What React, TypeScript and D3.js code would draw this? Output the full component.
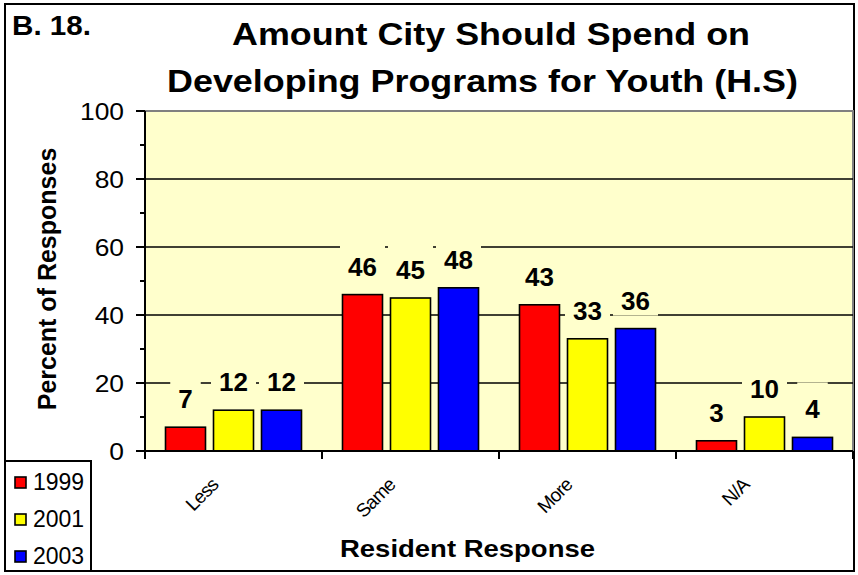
import React from "react";
import * as d3 from "d3";

const categories = ["Less", "Same", "More", "N/A"];
const years = ["1999", "2001", "2003"];
const values1999 = [7, 46, 43, 3];
const values2001 = [12, 45, 33, 10];
const values2003 = [12, 48, 36, 4];
const yTicks = [0, 20, 40, 60, 80, 100];
const yMinorTicks = [10, 30, 50, 70, 90];
const seriesColors = ["#FF0000", "#FFFF00", "#0000FF"];
const titleLines = ["Amount City Should Spend on", "Developing Programs for Youth (H.S)"];

const W = 858;
const H = 575;
const FONT = "'Liberation Sans', Arial, Helvetica, sans-serif";

export default function App() {
  const series = [values1999, values2001, values2003];
  const plot = { left: 145, right: 853, top: 111, bottom: 451 };
  const y = d3.scaleLinear().domain([0, 100]).range([plot.bottom, plot.top]);
  const x0 = d3.scaleBand<string>().domain(categories).range([plot.left, plot.right]);
  const x1 = d3
    .scaleBand<string>()
    .domain(years)
    .range([20.5, 156.5])
    .paddingInner(1 / 6);
  const bw = x1.bandwidth();
  const bgFill = "#FFFFCC";

  const bars: any[] = [];
  const labels: any[] = [];
  categories.forEach((c, ci) => {
    years.forEach((yr, si) => {
      const v = series[si][ci];
      const bx = (x0(c) as number) + (x1(yr) as number);
      bars.push(
        <rect
          key={`b-${c}-${yr}`}
          x={bx}
          y={y(v)}
          width={bw}
          height={y(0) - y(v)}
          fill={seriesColors[si]}
          stroke="#000"
          strokeWidth={1.6}
        />
      );
      const cx = bx + bw / 2;
      const base = y(v) - 19;
      const txt = String(v);
      const tw = txt.length * 14.5 + 16;
      labels.push(
        <g key={`l-${c}-${yr}`}>
          <rect x={cx - tw / 2} y={base - 36} width={tw} height={42} fill={bgFill} />
          <text
            x={cx}
            y={base}
            textAnchor="middle"
            fontFamily={FONT}
            fontWeight="bold"
            fontSize={26}
            fill="#000"
          >
            {txt}
          </text>
        </g>
      );
    });
  });

  const catEdges = [...categories.map((c) => x0(c) as number), plot.right];

  return (
    <svg
      width={W}
      height={H}
      style={{ position: "absolute", left: 0, top: 0, background: "#fff" }}
    >
      <rect x={5} y={4} width={849} height={567} fill="#fff" stroke="#000" strokeWidth={2} />
      <text x={12} y={35} fontFamily={FONT} fontWeight="bold" fontSize={27} textLength={79} lengthAdjust="spacingAndGlyphs">
        B. 18.
      </text>
      <text x={232} y={45} fontFamily={FONT} fontWeight="bold" fontSize={32} textLength={518} lengthAdjust="spacingAndGlyphs">
        {titleLines[0]}
      </text>
      <text x={167} y={92} fontFamily={FONT} fontWeight="bold" fontSize={32} textLength={631} lengthAdjust="spacingAndGlyphs">
        {titleLines[1]}
      </text>

      {/* plot area */}
      <rect
        x={plot.left}
        y={plot.top}
        width={plot.right - plot.left}
        height={plot.bottom - plot.top}
        fill={bgFill}
        stroke="#808080"
        strokeWidth={2}
      />
      {yTicks
        .filter((t) => t > 0 && t < 100)
        .map((t) => (
          <line key={`g${t}`} x1={plot.left} x2={plot.right} y1={y(t)} y2={y(t)} stroke="#000" strokeWidth={1.5} />
        ))}
      {labels}
      {bars}

      {/* y axis */}
      <line x1={plot.left} x2={plot.left} y1={plot.top} y2={plot.bottom} stroke="#000" strokeWidth={2} />
      {yTicks.map((t) => (
        <g key={`yt${t}`}>
          <line x1={136} x2={plot.left} y1={y(t)} y2={y(t)} stroke="#000" strokeWidth={2} />
          <text
            transform={`translate(124,${y(t)}) scale(1.1,1)`}
            dy="0.36em"
            textAnchor="end"
            fontFamily={FONT}
            fontSize={24}
          >
            {t}
          </text>
        </g>
      ))}
      {yMinorTicks.map((t) => (
        <line key={`ym${t}`} x1={140} x2={plot.left} y1={y(t)} y2={y(t)} stroke="#000" strokeWidth={2} />
      ))}

      {/* x axis */}
      <line x1={plot.left} x2={plot.right} y1={plot.bottom} y2={plot.bottom} stroke="#000" strokeWidth={2} />
      {catEdges.map((e, i) => (
        <line key={`xt${i}`} x1={e} x2={e} y1={plot.bottom} y2={plot.bottom + 8} stroke="#000" strokeWidth={2} />
      ))}
      {categories.map((c) => {
        const cx = (x0(c) as number) + x0.bandwidth() / 2;
        return (
          <text
            key={`xl${c}`}
            transform={`translate(${cx - 14},${486}) rotate(-45)`}
            textAnchor="end"
            fontFamily={FONT}
            fontSize={19}
            letterSpacing={-0.8}
          >
            {c}
          </text>
        );
      })}

      <text x={340} y={557} fontFamily={FONT} fontWeight="bold" fontSize={24} textLength={255} lengthAdjust="spacingAndGlyphs">
        Resident Response
      </text>
      <text
        transform={`translate(56,279) rotate(-90)`}
        textAnchor="middle"
        fontFamily={FONT}
        fontWeight="bold"
        fontSize={25}
      >
        Percent of Responses
      </text>

      {/* legend */}
      <rect x={5} y={461} width={86} height={110} fill="#fff" stroke="#000" strokeWidth={2} />
      {years.map((yr, i) => (
        <g key={`lg${yr}`}>
          <rect x={15} y={477 + i * 37} width={11} height={11} fill={seriesColors[i]} stroke="#000" strokeWidth={1.6} />
          <text x={33} y={490 + i * 37} fontFamily={FONT} fontSize={23}>
            {yr}
          </text>
        </g>
      ))}
    </svg>
  );
}
